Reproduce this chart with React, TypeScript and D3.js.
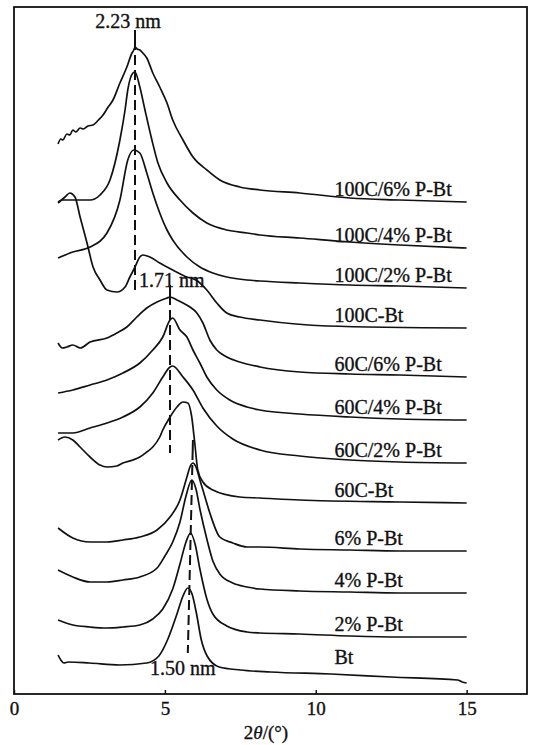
import React, { useEffect, useRef } from 'react';
import * as d3 from 'd3';

// XRD patterns, 2θ in degrees, intensity in arbitrary units (stacked)
const xTicks = [0, 5, 10, 15];

const sampleLabels = [
  '100C/6% P-Bt', '100C/4% P-Bt', '100C/2% P-Bt', '100C-Bt',
  '60C/6% P-Bt', '60C/4% P-Bt', '60C/2% P-Bt', '60C-Bt',
  '6% P-Bt', '4% P-Bt', '2% P-Bt', 'Bt',
];

const c100p6 = [
  [1.46, 550], [1.55, 555], [1.62, 554], [1.75, 560], [1.85, 559], [1.95, 564], [2.05, 562],
  [2.19, 566], [2.3, 565], [2.45, 568], [2.62, 569], [2.8, 574], [2.95, 579], [3.1, 586],
  [3.28, 594], [3.51, 611], [3.74, 627], [3.91, 641], [3.97, 644], [4.01, 647], [4.08, 645],
  [4.17, 644], [4.3, 640], [4.4, 636], [4.6, 621], [4.83, 607], [5.07, 591], [5.26, 574],
  [5.6, 554], [5.93, 537], [6.39, 524], [6.82, 514], [7.48, 507], [8.15, 504], [9.47, 501],
  [11.13, 496], [12.78, 494], [15.0, 492],
];
const c100p4 = [
  [1.46, 492], [1.6, 494], [1.95, 494], [2.52, 494], [2.85, 499], [3.18, 514], [3.51, 554],
  [3.68, 584], [3.77, 604], [3.94, 621], [4.01, 622], [4.17, 607], [4.34, 584], [4.57, 554],
  [4.77, 531], [5.07, 511], [5.5, 494], [5.93, 481], [6.39, 471], [7.05, 464], [7.72, 461],
  [8.15, 459], [9.47, 456], [11.13, 452], [12.78, 449], [15.0, 446],
];
const c100p2 = [
  [1.46, 436], [1.95, 442], [2.52, 447], [3.08, 461], [3.51, 494], [3.77, 534], [3.97, 544],
  [4.17, 541], [4.4, 521], [4.6, 501], [4.83, 481], [5.07, 464], [5.26, 454], [5.73, 437],
  [6.16, 427], [6.59, 421], [7.05, 417], [7.72, 414], [8.15, 413], [9.47, 411], [11.13, 409],
  [12.78, 408], [15.0, 406],
];
const c100bt = [
  [1.46, 491], [1.69, 497], [1.85, 501], [2.02, 497], [2.19, 477], [2.42, 451], [2.62, 427],
  [2.85, 414], [3.08, 404], [3.41, 402], [3.68, 407], [3.84, 417], [4.01, 427], [4.17, 437],
  [4.27, 439], [4.5, 437], [4.83, 431], [5.26, 424], [5.73, 417], [6.03, 414], [6.39, 404],
  [6.72, 391], [7.05, 381], [7.48, 377], [8.15, 374], [10.36, 368], [15.0, 366],
];
const c60p6 = [
  [1.46, 351], [1.6, 346], [1.75, 347], [1.95, 349], [2.2, 346], [2.52, 352], [3.08, 356],
  [3.41, 361], [3.74, 367], [4.07, 377], [4.4, 386], [4.74, 392], [5.07, 396], [5.17, 397],
  [5.4, 394], [5.6, 391], [5.83, 387], [6.06, 381], [6.26, 371], [6.49, 354], [6.72, 344],
  [7.05, 337], [7.48, 332], [8.15, 327], [9.47, 322], [11.13, 320], [12.78, 319], [15.0, 317],
];
const c60p4 = [
  [1.46, 301], [1.95, 304], [2.52, 309], [3.08, 314], [3.61, 321], [4.17, 331], [4.6, 344],
  [4.93, 357], [5.17, 374], [5.26, 376], [5.5, 364], [5.73, 357], [5.93, 344], [6.16, 331],
  [6.39, 317], [6.72, 304], [7.15, 294], [7.72, 287], [8.15, 284], [9.47, 280], [11.13, 277],
  [12.78, 275], [15.0, 274],
];
const c60p2 = [
  [1.46, 261], [1.95, 261], [2.52, 266], [3.08, 271], [3.61, 277], [4.17, 287], [4.6, 301],
  [4.93, 317], [5.17, 327], [5.26, 328], [5.6, 317], [5.93, 304], [6.26, 286], [6.72, 268],
  [7.25, 255], [8.15, 244], [9.47, 238], [11.13, 234], [12.78, 232], [15.0, 231],
];
const c60bt = [
  [1.46, 254], [1.69, 257], [1.95, 254], [2.19, 247], [2.52, 237], [2.85, 229], [3.08, 227],
  [3.41, 228], [3.61, 231], [3.94, 234], [4.17, 237], [4.4, 242], [4.6, 247], [4.83, 257],
  [4.93, 264], [5.17, 277], [5.4, 287], [5.6, 292], [5.76, 291], [5.89, 277], [5.99, 251],
  [6.09, 224], [6.26, 212], [6.59, 204], [7.48, 197], [8.15, 196], [9.47, 194], [12.78, 192],
  [15.0, 191],
];
const p6 = [
  [1.46, 166], [1.95, 156], [2.52, 152], [3.08, 152], [3.61, 154], [4.17, 157], [4.74, 164],
  [5.17, 177], [5.5, 194], [5.73, 217], [5.83, 227], [5.93, 231], [6.03, 227], [6.16, 214],
  [6.26, 204], [6.49, 181], [6.82, 157], [7.25, 151], [7.72, 147], [8.15, 147], [9.47, 145],
  [11.13, 144], [12.78, 143], [15.0, 143],
];
const p4 = [
  [1.46, 124], [1.95, 117], [2.52, 112], [3.08, 112], [3.61, 114], [4.17, 117], [4.74, 126],
  [5.0, 138], [5.26, 152], [5.5, 172], [5.7, 198], [5.89, 214], [6.03, 205], [6.16, 185],
  [6.39, 155], [6.59, 133], [6.82, 120], [7.25, 111], [7.72, 107], [8.15, 105], [9.47, 103],
  [11.13, 102], [12.78, 101], [15.0, 101],
];
const p2 = [
  [1.46, 74], [1.95, 69], [2.52, 67], [3.08, 66], [3.61, 67], [4.17, 69], [4.6, 75],
  [4.93, 85], [5.26, 105], [5.5, 130], [5.7, 152], [5.85, 161], [6.0, 150], [6.16, 125],
  [6.39, 95], [6.59, 80], [7.05, 68], [7.72, 62], [8.15, 61], [9.47, 60], [11.13, 58],
  [12.78, 57], [15.0, 57],
];
const bt = [
  [1.46, 39], [1.55, 34], [1.65, 31], [1.8, 32], [2.5, 31], [3.5, 29], [4.4, 31], [4.8, 38],
  [5.1, 55], [5.4, 80], [5.6, 98], [5.76, 106], [5.9, 100], [6.05, 80], [6.2, 55], [6.4, 38],
  [6.8, 27], [7.5, 24], [8.5, 22], [10.5, 20], [12.5, 17], [14.7, 14], [14.85, 12], [15.0, 11],
];

const patterns = [c100p6, c100p4, c100p2, c100bt, c60p6, c60p4, c60p2, c60bt, p6, p4, p2, bt];

// d-spacing marker lines: [2θ top, I top, 2θ bottom, I bottom]
const dLabels = ['2.23 nm', '1.71 nm', '1.50 nm'];
const dLines = [
  [4.01, 664, 4.01, 399],
  [5.17, 409, 5.17, 241],
  [5.93, 254, 5.76, 41],
];

const App = () => {
  const svgRef = useRef(null);

  useEffect(() => {
    const width = 535;
    const height = 745;
    const left = 14, top = 7, right = 527, bottom = 694;
    const svg = d3.select(svgRef.current);
    svg.selectAll('*').remove();
    svg.attr('width', width).attr('height', height);

    const x = d3.scaleLinear().domain([0, 17]).range([left, right]);
    const y = d3.scaleLinear().domain([0, 687]).range([bottom, top]);

    const font = '"Liberation Serif", "Times New Roman", serif';
    const ink = '#111';

    const line = d3.line()
      .x(d => x(d[0]))
      .y(d => y(d[1]))
      .curve(d3.curveMonotoneX);

    svg.selectAll('.pattern')
      .data(patterns)
      .join('path')
      .attr('class', 'pattern')
      .attr('d', d => line(d))
      .attr('fill', 'none')
      .attr('stroke', ink)
      .attr('stroke-width', 1.7)
      .attr('stroke-linejoin', 'round');

    const txt = (sel, size = 20) => sel
      .attr('font-family', font)
      .attr('font-size', size)
      .attr('fill', ink)
      .attr('stroke', ink)
      .attr('stroke-width', 0.35);

    // labels on the right, just above each tail
    svg.selectAll('.sample')
      .data(patterns)
      .join('text')
      .attr('class', 'sample')
      .attr('x', x(10.62))
      .attr('y', (d, i) => y(d[d.length - 1][1]) - (i === 11 ? 19 : 6))
      .call(txt)
      .text((d, i) => sampleLabels[i]);

    // dashed d-spacing lines, with a short solid lead at the top
    dLines.forEach(([x1, y1, x2, y2]) => {
      svg.append('line')
        .attr('x1', x(x1)).attr('y1', y(y1))
        .attr('x2', x(x2)).attr('y2', y(y2))
        .attr('stroke', ink)
        .attr('stroke-width', 2)
        .attr('stroke-dasharray', '20,5,10,5,10,5,10,5,10,5,10,5,10,5,10,5,10,5,10,5,10,5,10,5,10,5,10,5,10,5,10,5,10,5,10,5,10,5,10,5,10,5,2,6');
    });

    const d0 = dLines[0], d1 = dLines[1], d2 = dLines[2];
    svg.append('text')
      .attr('x', x(d0[0]) - 7).attr('y', y(d0[1]) - 2)
      .attr('text-anchor', 'middle')
      .call(txt)
      .text(dLabels[0]);
    svg.append('text')
      .attr('x', x(d1[0]) - 31).attr('y', y(d1[1]) + 2)
      .call(txt)
      .text(dLabels[1]);
    svg.append('text')
      .attr('x', x(d2[2]) - 5).attr('y', y(d2[3]) + 22)
      .attr('text-anchor', 'middle')
      .call(txt)
      .text(dLabels[2]);

    // frame
    svg.append('rect')
      .attr('x', left).attr('y', top)
      .attr('width', right - left).attr('height', bottom - top)
      .attr('fill', 'none')
      .attr('stroke', ink)
      .attr('stroke-width', 1.8);

    const xAxis = d3.axisBottom(x).tickValues(xTicks).tickSize(-4).tickPadding(8);
    const gx = svg.append('g')
      .attr('transform', `translate(0,${bottom})`)
      .call(xAxis);
    gx.select('.domain').remove();
    gx.selectAll('line').attr('stroke', ink).attr('stroke-width', 1.5);
    gx.selectAll('text').call(txt, 19);

    const xl = svg.append('text')
      .attr('x', x(8.35)).attr('y', 739)
      .attr('text-anchor', 'middle')
      .call(txt, 19);
    xl.append('tspan').text('2');
    xl.append('tspan').attr('font-style', 'italic').text('θ');
    xl.append('tspan').text('/(°)');
  }, []);

  return (
    <svg ref={svgRef} style={{ position: 'absolute', left: 0, top: 0 }} />
  );
};

export default App;
